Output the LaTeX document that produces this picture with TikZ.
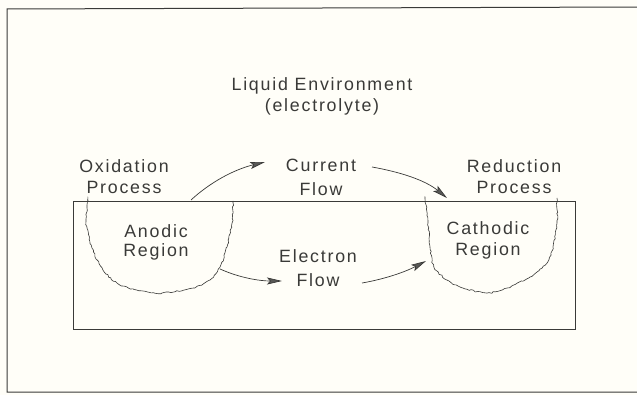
\documentclass[tikz,border=0pt]{standalone}
\usepackage{fontspec}
\setmainfont[LetterSpace=10]{Liberation Sans}
\usetikzlibrary{arrows.meta,decorations.pathmorphing}
\definecolor{paper}{HTML}{FFFEF8}
\definecolor{ink}{HTML}{3A3A38}
\tikzset{
  lbl/.style={anchor=north,align=center,inner sep=0pt,text=ink,
    font=\fontsize{17.8}{21}\selectfont},
  frame/.style={draw=ink,line width=1pt},
  blob/.style={draw=ink,line width=0.6pt,
    decoration={random steps,segment length=2.2pt,amplitude=0.7pt},decorate},
  flow/.style={draw=ink,line width=0.7pt,-{Stealth[length=15pt,width=7pt,inset=3pt,fill=ink!85]}}
}
\begin{document}
\begin{tikzpicture}[x=1pt,y=-1pt]
\pgfmathsetseed{7}
\fill[paper] (0,0) rectangle (637,395);
\useasboundingbox (0,0) rectangle (637,395);
% outer frame (right side runs off)
\draw[frame] (640,7) -- (7,9) -- (7,392) -- (640,392);
% metal block
\draw[frame,line width=0.9pt] (73,201) rectangle (575,329);
% anodic region
\draw[blob] plot[smooth] coordinates {(88,201) (86,222) (92,248) (103,270) (120,285) (143,291) (162,293) (193,288) (210,280) (220,267) (227,247) (232,223) (233,201)};
% cathodic region
\draw[blob] plot[smooth] coordinates {(425,198) (428,223) (430,247) (434,267) (447,280) (463,288) (487,293) (507,288) (530,277) (547,263) (553,247) (557,223) (557,198)};
% labels
\node[lbl] (env) at (322,77) {Liquid Environment\\(electrolyte)};
\node[lbl] (ox) at (124,159) {Oxidation\\Process};
\node[lbl,font=\fontsize{17.8}{24}\selectfont] (cur) at (321,159) {Current\\Flow};
\node[lbl] (red) at (514,159) {Reduction\\Process};
\node[lbl,font=\fontsize{17.8}{19}\selectfont] (ano) at (156,224) {Anodic\\Region};
\node[lbl] (cat) at (488,221) {Cathodic\\Region};
\node[lbl,font=\fontsize{17.8}{24}\selectfont] (ele) at (318,249) {Electron\\Flow};
% connectors
\coordinate (c1s) at (191,200);
\coordinate (c1e) at (265,162);
\coordinate (c2s) at (372,167);
\coordinate (c2e) at (447,198);
\coordinate (e1s) at (220,269);
\coordinate (e1e) at (282,281);
\coordinate (e2s) at (362,283);
\coordinate (e2e) at (426,261);
\draw[flow] (c1s) .. controls (215,178) and (240,168) .. (c1e);
\draw[flow] (c2s) .. controls (400,172) and (425,180) .. (c2e);
\draw[flow] (e1s) .. controls (240,278) and (260,281) .. (e1e);
\draw[flow] (e2s) .. controls (385,279) and (405,272) .. (e2e);
\end{tikzpicture}
\end{document}
